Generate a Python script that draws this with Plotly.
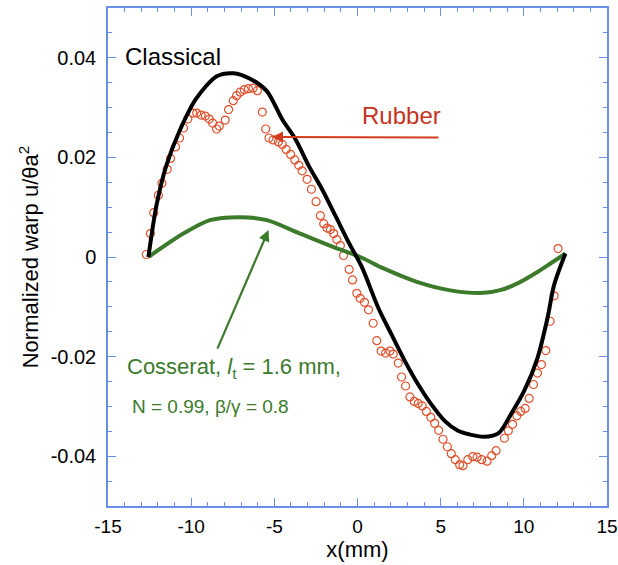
import plotly.graph_objects as go

# ---- data ----
rubber_x = [-12.70, -12.45, -12.25, -11.97, -11.76, -11.44, -11.24, -10.94, -10.70, -10.46,
            -10.20, -9.90, -9.67, -9.40, -9.15, -8.91, -8.71, -8.47, -8.31, -7.95,
            -7.75, -7.47, -7.27, -7.05, -6.81, -6.56, -6.28, -6.02, -5.72, -5.52,
            -5.32, -5.08, -4.76, -4.52, -4.29, -4.02, -3.77, -3.53, -3.33, -3.03,
            -2.77, -2.49, -2.23, -2.03, -1.83, -1.63, -1.43, -1.24, -1.03, -0.84,
            -0.50, -0.30, -0.04, 0.16, 0.42, 0.66, 0.94, 1.16, 1.42, 1.69,
            1.95, 2.15, 2.45, 2.65, 2.89, 3.15, 3.41, 3.65, 3.89, 4.14,
            4.41, 4.64, 4.88, 5.14, 5.40, 5.64, 5.88, 6.14, 6.34, 6.63,
            6.93, 7.19, 7.47, 7.79, 8.07, 8.33, 8.83, 9.07, 9.32, 9.58,
            9.82, 10.08, 10.32, 10.58, 10.82, 11.06, 11.32, 11.58, 11.82, 12.06]
rubber_y = [0.0005, 0.0047, 0.0089, 0.0124, 0.0148, 0.0176, 0.0198, 0.0221, 0.0239, 0.0259,
            0.0277, 0.0289, 0.0289, 0.0285, 0.0283, 0.0277, 0.0269, 0.0257, 0.0263, 0.0275,
            0.0296, 0.0314, 0.0324, 0.0331, 0.0336, 0.0338, 0.0339, 0.0334, 0.0291, 0.0257,
            0.0239, 0.0235, 0.0231, 0.0226, 0.0216, 0.0206, 0.0195, 0.0184, 0.0173, 0.0156,
            0.0136, 0.0111, 0.0083, 0.0067, 0.0058, 0.0055, 0.0047, 0.0035, 0.0023, 0.0003,
            -0.0025, -0.0046, -0.0073, -0.0083, -0.0091, -0.0106, -0.0133, -0.0168, -0.0189, -0.0193,
            -0.0189, -0.0195, -0.0213, -0.0241, -0.0259, -0.0281, -0.0290, -0.0294, -0.0299, -0.0310,
            -0.0322, -0.0334, -0.0348, -0.0366, -0.0381, -0.0395, -0.0407, -0.0417, -0.0419, -0.0407,
            -0.0401, -0.0402, -0.0407, -0.0410, -0.0399, -0.0389, -0.0364, -0.0349, -0.0336, -0.0319,
            -0.0310, -0.0304, -0.0284, -0.0256, -0.0233, -0.0216, -0.0188, -0.0129, -0.0078, 0.0017]

classical_x = [-12.57, -12.09, -11.5, -10.7, -9.70, -8.46, -7.46, -6.46, -5.45,
               -4.52, -3.72, -2.93, -2.13, -1.33, -0.54, 0.26, 1.26, 2.05, 2.85,
               3.65, 4.44, 5.24, 6.04, 6.7, 7.6, 8.5, 9.22, 10.02, 10.82,
               11.42, 11.82, 12.5]
classical_y = [0.0, 0.0103, 0.0183, 0.0253, 0.0318, 0.0363, 0.0369, 0.0358, 0.0333,
               0.0276, 0.0236, 0.0183, 0.0136, 0.0083, 0.0030, -0.0020, -0.0103, -0.0156, -0.0209,
               -0.0256, -0.0296, -0.0329, -0.0349, -0.0356, -0.0361, -0.0353, -0.0316, -0.0269, -0.0203,
               -0.0123, -0.0056, 0.0007]

cosserat_x = [-12.57, -10.47, -8.87, -7.05, -5.45, -3.45, -1.44, 0.16, 1.57, 3.57,
              5.58, 7.6, 8.63, 9.62, 10.82, 11.6, 12.5]
cosserat_y = [0.0, 0.0047, 0.0074, 0.0080, 0.0074, 0.0047, 0.0020, 0.0, -0.0023, -0.0050,
              -0.0067, -0.0072, -0.0066, -0.0053, -0.0030, -0.0013, 0.0007]

y_ticks = [-0.04, -0.02, 0, 0.02, 0.04]
y_tick_labels = ["-0.04", "-0.02", "0", "0.02", "0.04"]
x_ticks = [-15, -10, -5, 0, 5, 10, 15]
x_tick_labels = ["-15", "-10", "-5", "0", "5", "10", "15"]

AX = "#6b8fe6"
RED = "#e0502c"
GREEN = "#3c7a2c"
FONT = "Liberation Sans, Arial, sans-serif"

fig = go.Figure()
fig.add_trace(go.Scatter(x=rubber_x, y=rubber_y, mode="markers",
                         marker=dict(symbol="circle-open", size=8, color=RED, line=dict(width=1.2, color=RED)),
                         showlegend=False))
fig.add_trace(go.Scatter(x=cosserat_x, y=cosserat_y, mode="lines",
                         line=dict(color=GREEN, width=4, shape="spline", smoothing=0.8),
                         showlegend=False))
fig.add_trace(go.Scatter(x=classical_x, y=classical_y, mode="lines",
                         line=dict(color="black", width=4, shape="spline", smoothing=0.8),
                         showlegend=False))

axis_common = dict(showline=True, linecolor=AX, linewidth=1.5, mirror="ticks",
                   ticks="inside", tickcolor=AX, ticklen=8, tickwidth=1,
                   showgrid=False, zeroline=False, automargin=False,
                   ticklabeloverflow="allow")

fig.update_xaxes(range=[-15, 15], tickvals=x_ticks, ticktext=x_tick_labels,
                 tickfont=dict(family=FONT, size=19, color="black"),
                 minor=dict(dtick=1, ticks="inside", ticklen=4, tickcolor=AX, showgrid=False),
                 title=dict(text="x(mm)", font=dict(family=FONT, size=22, color="black"), standoff=4),
                 ticklabelstandoff=2,
                 **axis_common)
fig.update_yaxes(range=[-0.05, 0.05], tickvals=y_ticks, ticktext=y_tick_labels,
                 tickfont=dict(family=FONT, size=20, color="black"),
                 minor=dict(dtick=0.005, ticks="inside", ticklen=4, tickcolor=AX, showgrid=False),
                 title=dict(text="Normalized warp u/θa<sup>2</sup>", font=dict(family=FONT, size=22, color="black"), standoff=6),
                 ticklabelstandoff=6,
                 **axis_common)

annotations = [
    dict(x=-14.12, y=0.0402, xref="x", yref="y", text="Classical", showarrow=False,
         xanchor="left", yanchor="middle", font=dict(family=FONT, size=24, color="black")),
    dict(x=2.63, y=0.0284, xref="x", yref="y", text="Rubber", showarrow=False,
         xanchor="center", yanchor="middle", font=dict(family=FONT, size=24, color="#c4341f")),
    dict(x=-5.14, y=0.0241, ax=4.96, ay=0.0240, xref="x", yref="y", axref="x", ayref="y",
         text="", showarrow=True, arrowhead=2, arrowsize=1, arrowwidth=2.2, arrowcolor="#d23c1c"),
    dict(x=-5.35, y=0.0054, ax=-8.46, ay=-0.0187, xref="x", yref="y", axref="x", ayref="y",
         text="", showarrow=True, arrowhead=2, arrowsize=1, arrowwidth=2.2, arrowcolor=GREEN),
    dict(x=-13.99, y=-0.0223, xref="x", yref="y",
         text="Cosserat, <i>l</i><sub>t</sub> = 1.6 mm,", showarrow=False,
         xanchor="left", yanchor="middle", font=dict(family=FONT, size=22, color=GREEN)),
    dict(x=-13.69, y=-0.0300, xref="x", yref="y",
         text="N = 0.99, β/γ = 0.8", showarrow=False,
         xanchor="left", yanchor="middle", font=dict(family=FONT, size=19, color=GREEN)),
]

fig.update_layout(width=618, height=565, margin=dict(l=108, r=11, t=8, b=59),
                  paper_bgcolor="white", plot_bgcolor="white",
                  annotations=annotations, font=dict(family=FONT))

# remove the browser's default 8px body margin so the figure fills the window exactly
fig.write_html("out.html", config={"displayModeBar": False},
               post_script="document.body.style.margin='0';document.body.style.overflow='hidden';")
